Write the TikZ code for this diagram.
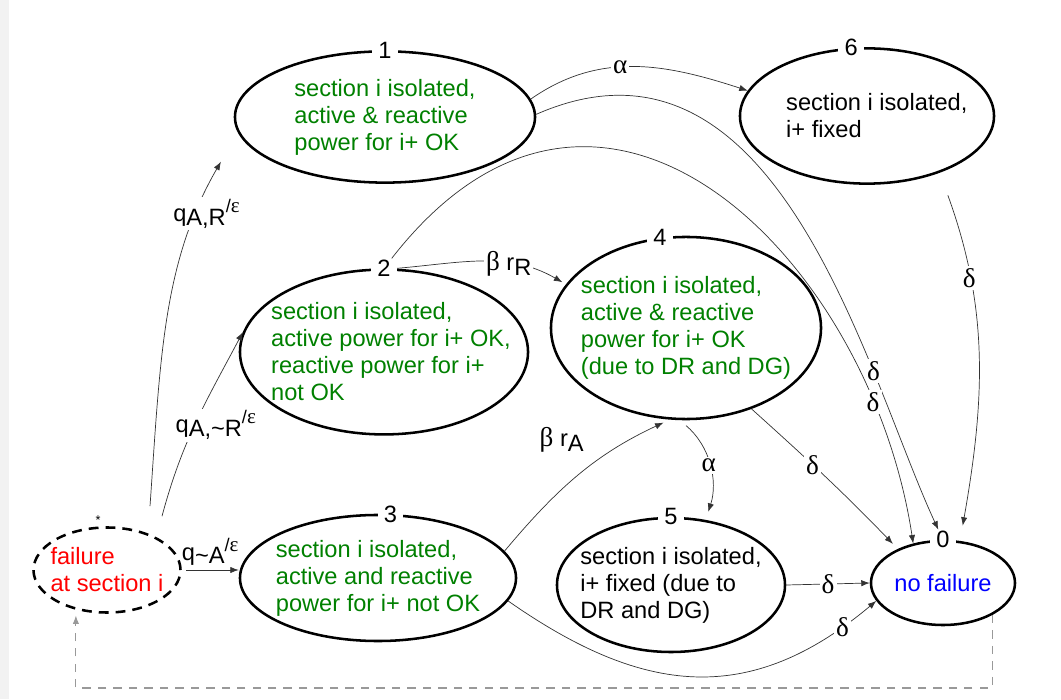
\documentclass[tikz,border=0pt]{standalone}
\usepackage{fontspec}
\usepackage{xcolor}
\setmainfont{Liberation Sans}
\newfontfamily\grk[Scale=1.15]{Liberation Serif}
\usetikzlibrary{shapes.geometric,arrows.meta}
\definecolor{stgreen}{RGB}{0,128,0}
\tikzstyle{state} = [ellipse, draw=black, line width=1.8pt, inner sep=0pt]
\tikzstyle{start} = [state, dash pattern=on 7pt off 5pt]
\tikzstyle{txt} = [align=left, text=stgreen]
\tikzstyle{num} = [fill=white, inner xsep=4.5pt, inner ysep=1pt]
\tikzstyle{arrow} = [black!80, line width=0.5pt, -{Latex[length=6pt,width=4.5pt]}]
\tikzstyle{back} = [black!40, line width=0.8pt, dash pattern=on 6pt off 5pt, -{Latex[length=6pt,width=4.5pt]}]
\tikzstyle{lbl} = [fill=white, inner sep=1.5pt, text=black]
\newcommand{\rsup}[1]{\raisebox{0.7ex}{\fontsize{13}{13}\selectfont #1}}

\begin{document}
\begin{tikzpicture}[x=0.025cm, y=0.025cm, font=\fontsize{16.8}{19.2}\selectfont]
\useasboundingbox (0,0) rectangle (1061,699);
\fill[black!5] (0,0) rectangle (9,699);

% States
\node (nf) [start, minimum width=3.675cm, minimum height=2.125cm, label={[align=left, text=red]center:{failure\\at section i}}] at (107,129) {}; % start
\node (n1) [state, minimum width=7.5cm, minimum height=3.28cm, label={[txt]center:{section i isolated,\\active \& reactive\\power for i+ OK}}] at (385,582) {};
\node (n6) [state, minimum width=6.35cm, minimum height=3.38cm, label={[align=left, xshift=7pt]center:{section i isolated,\\i+ fixed}}] at (867,583) {};
\node (n2) [state, minimum width=7.2cm, minimum height=4.12cm, label={[txt, xshift=5pt]center:{section i isolated,\\active power for i+ OK,\\reactive power for i+\\not OK}}] at (384,347) {};
\node (n4) [state, minimum width=6.75cm, minimum height=4.55cm, label={[txt]center:{section i isolated,\\active \& reactive\\power for i+ OK\\(due to DR and DG)}}] at (686,371) {};
\node (n3) [state, minimum width=6.9cm, minimum height=3.15cm, label={[txt]center:{section i isolated,\\active and reactive\\power for i+ not OK}}] at (378,121) {};
\node (n5) [state, minimum width=5.7cm, minimum height=3.35cm, label={[align=left]center:{section i isolated,\\i+ fixed (due to\\DR and DG)}}] at (671,114) {};
\node (n0) [state, minimum width=3.6cm, minimum height=2.1cm, label={[text=blue]center:no failure}] at (943,116) {}; % end

% Numbers
\node (l1) [num] at (n1.north) {1};
\node (l6) [num] at (n6.103) {6};
\node (l2) [num] at (n2.north) {2};
\node (l4) [num] at (n4.106) {4};
\node (l3) [num] at (n3.79) {3};
\node (l5) [num] at (n5.north) {5};
\node (l0) [num] at (n0.north) {0};
\node (lf) [font=\small, inner sep=0pt] at ([shift={(-9,6)}]nf.north) {*};

% Transitions
\draw [arrow, shorten >=24pt] ([shift={(43,20)}]nf.north) to[out=86, in=240] node[lbl, pos=0.78, xshift=6pt] {q\raisebox{-0.3ex}{A,R}\rsup{/{\grk ε}}} (n1.186);
\draw [arrow] ([shift={(55,10)}]nf.north) to[out=75, in=242] node[lbl, pos=0.48, xshift=15pt] {q\raisebox{-0.3ex}{A,\textasciitilde R}\rsup{/{\grk ε}}} (n2.172);
\draw [arrow, shorten <=3pt] (nf.east) -- node[above, text=black] {q\raisebox{-0.3ex}{\textasciitilde A}\rsup{/{\grk ε}}} (nf.east -| n3.west);
\draw [arrow, shorten >=3pt] (l2.east) to[out=5, in=150] node[lbl, pos=0.65] {{\grk β} r\raisebox{-0.4ex}{R}} (n4.160);
\draw [arrow] (n1.7) to[out=35, in=162] node[lbl, pos=0.43] {\grk α} (n6.168);
\draw [arrow] (n1.1) .. controls (778,691) and (866,325) .. node[lbl, pos=0.73] {\grk δ} (l0);
\draw [arrow] (l2) .. controls (602,711) and (870,440) .. node[lbl, pos=0.83] {\grk δ} (n0.127);
\draw [arrow, shorten <=17pt, shorten >=11pt] (n6.-38) to[out=-70, in=80] node[lbl, pos=0.28] {\grk δ} (n0.68);
\draw [arrow, shorten >=5pt] (n4.-51) to[out=-42, in=134] node[lbl, pos=0.4] {\grk δ} (n0.143);
\draw [arrow, shorten <=6pt, shorten >=6pt] (n4.-94) to[out=-40, in=72] node[lbl] {\grk α} (n5.62);
\draw [arrow, shorten >=5pt] (n3.12) to[out=50, in=205] node[pos=0.45, above=17pt, xshift=-7pt, text=black] {{\grk β} r\raisebox{-0.4ex}{A}} (n4.-100);
\draw [arrow] (n5.east) -- node[lbl] {\grk δ} (n0.west);
\draw [arrow] (n3.-10) to[out=-35, in=220, looseness=1.15] node[lbl, pos=0.91] {\grk δ} (n0.195);

% Back to start
\coordinate (bot) at (0,11);
\draw [back, shorten >=4pt] (n0.-33) -- (n0.-33 |- bot) -| (nf.-128);

\end{tikzpicture}
\end{document}
